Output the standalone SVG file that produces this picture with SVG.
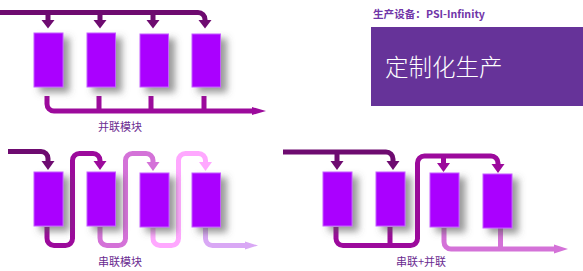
<svg xmlns="http://www.w3.org/2000/svg" width="583" height="271" viewBox="0 0 583 271">
<defs>
<filter id="sh" x="-40%" y="-30%" width="200%" height="180%">
<feDropShadow dx="6" dy="5" stdDeviation="3.5" flood-color="#555" flood-opacity="0.6"/>
</filter>
</defs>
<style>
.box{fill:#AA00FF;stroke:#C45CFF;stroke-width:1;filter:url(#sh)}
.ln{fill:none;stroke-width:5;stroke-linejoin:round}
.dk{stroke:#6E0B70}.dkf{fill:#6E0B70}
.md{stroke:#9C0A9C}.mdf{fill:#9C0A9C}
.oc{stroke:#D472D8}.ocf{fill:#D472D8}
.pk{stroke:#FFA8FF}.pkf{fill:#FFA8FF}
.lv{stroke:#D9A8F5}.lvf{fill:#D9A8F5}
.lbl{font-family:"Noto Sans CJK SC","Noto Sans",sans-serif;font-size:11px;fill:#6B2C91;text-anchor:middle}
</style>
<rect width="583" height="271" fill="#fff"/>
<g id="connectors">
<path class="ln dk" d="M0,12.5 H198 A7,7 0 0 1 205,19.5 V21"/>
<path class="ln dk" d="M48,12.5 V21 M100,12.5 V21 M153,12.5 V21"/>
<polygon class="dkf" points="41.5,20 54.5,20 48,28.5"/>
<polygon class="dkf" points="93.5,20 106.5,20 100,28.5"/>
<polygon class="dkf" points="146.5,20 159.5,20 153,28.5"/>
<polygon class="dkf" points="198.5,20 211.5,20 205,28.5"/>
<path class="ln md" d="M47,96 V104 A7,7 0 0 0 54,111 H256"/>
<path class="ln md" d="M99,96 V111 M151,96 V111 M204,96 V111"/>
<polygon class="mdf" points="252,107 266,111 252,115"/>
<path class="ln dk" d="M8,151.5 H41 A7,7 0 0 1 48,158.5 V162"/>
<polygon class="dkf" points="41.5,161 54.5,161 48,170"/>
<path class="ln md" d="M47,227 V238 A7,7 0 0 0 54,245.5 H65.5 A7,7 0 0 0 72.5,238.5 V160.5 A7,7 0 0 1 79.5,153.5 H93 A7,7 0 0 1 100,160.5 V162"/>
<polygon class="mdf" points="93.5,161 106.5,161 100,170"/>
<path class="ln oc" d="M100,227 V238 A7,7 0 0 0 107,245.5 H118.5 A7,7 0 0 0 125.5,238.5 V160.5 A7,7 0 0 1 132.5,153.5 H146 A7,7 0 0 1 153,160.5 V163"/>
<polygon class="ocf" points="146.5,162 159.5,162 153,171"/>
<path class="ln pk" d="M153,228 V238 A7,7 0 0 0 160,245.5 H171.5 A7,7 0 0 0 178.5,238.5 V160.5 A7,7 0 0 1 185.5,153.5 H198.5 A7,7 0 0 1 205.5,160.5 V163"/>
<polygon class="pkf" points="199,162 212,162 205.5,171"/>
<path class="ln lv" d="M205.5,228 V238.5 A7,7 0 0 0 212.5,245.5 H248"/>
<polygon class="lvf" points="245,241.5 258,245.5 245,249.5"/>
<path class="ln dk" d="M283,152 H386 A7,7 0 0 1 393,159 V162"/>
<path class="ln dk" d="M337,152 V162"/>
<polygon class="dkf" points="330.5,161 343.5,161 337,170"/>
<polygon class="dkf" points="386.5,161 399.5,161 393,170"/>
<path class="ln md" d="M336,227 V238.5 A7,7 0 0 0 343,245.5 H410.5 A7,7 0 0 0 417.5,238.5 V163 A7,7 0 0 1 424.5,156 H491 A7,7 0 0 1 498,163 V165"/>
<path class="ln md" d="M390,227 V245.5 M443.5,156 V164"/>
<polygon class="mdf" points="437,163 450,163 443.5,172"/>
<polygon class="mdf" points="491.5,164 504.5,164 498,173"/>
<path class="ln oc" d="M444,228 V242 A7,7 0 0 0 451,249 H558"/>
<path class="ln oc" d="M500.5,228 V249"/>
<polygon class="ocf" points="554,244.5 568,249 554,253.5"/>
</g>
<g id="n-p1"><rect class="box" x="34" y="33" width="29" height="54"/></g>
<g id="n-p2"><rect class="box" x="87" y="33" width="28.5" height="54"/></g>
<g id="n-p3"><rect class="box" x="140" y="34" width="28.5" height="53"/></g>
<g id="n-p4"><rect class="box" x="192" y="34" width="28.5" height="53"/></g>
<g id="n-s1"><rect class="box" x="34" y="172" width="29" height="54"/></g>
<g id="n-s2"><rect class="box" x="87" y="172" width="28.5" height="54"/></g>
<g id="n-s3"><rect class="box" x="140" y="173" width="29" height="54"/></g>
<g id="n-s4"><rect class="box" x="192" y="173" width="28.5" height="54"/></g>
<g id="n-m1"><rect class="box" x="323" y="172" width="29" height="54"/></g>
<g id="n-m2"><rect class="box" x="376" y="172" width="29" height="54"/></g>
<g id="n-m3"><rect class="box" x="430" y="173" width="29" height="54"/></g>
<g id="n-m4"><rect class="box" x="483" y="174" width="29" height="54"/></g>
<g id="labels">
<text class="lbl" x="120" y="131">并联模块</text>
<text class="lbl" x="120" y="266">串联模块</text>
<text class="lbl" x="421" y="266">串联+并联</text>
</g>
<g id="title">
<text x="373" y="18" font-family="'Noto Sans CJK SC','Noto Sans',sans-serif" font-size="10.6" font-weight="bold" fill="#7035A8">生产设备：PSI-Infinity</text>
<rect x="371" y="27" width="212" height="79" fill="#663399"/>
<text x="385" y="76" font-family="'Noto Sans CJK SC',sans-serif" font-size="23.5" font-weight="300" fill="#fff">定制化生产</text>
</g>
</svg>
